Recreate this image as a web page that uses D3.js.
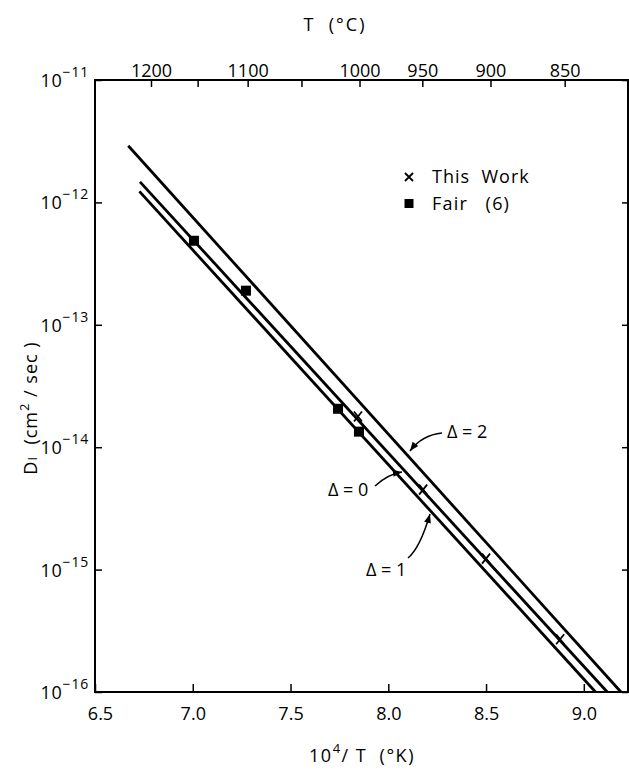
<!DOCTYPE html>
<html><head><meta charset="utf-8">
<script src="https://cdnjs.cloudflare.com/ajax/libs/d3/7.8.5/d3.min.js"></script>
<style>body{margin:0;background:#fff}svg{display:block}text{font-family:"Open Sans","Liberation Sans",Arial,sans-serif;fill:#000;white-space:pre}</style>
</head><body><svg id="c" width="629" height="770"></svg>
<script>
// ---- data ----
const xTicks = [6.5, 7.0, 7.5, 8.0, 8.5, 9.0];
const xTickLabels = ["6.5", "7.0", "7.5", "8.0", "8.5", "9.0"];
const yTicks = [1e-11, 1e-12, 1e-13, 1e-14, 1e-15, 1e-16];
const yTickExps = ["-11", "-12", "-13", "-14", "-15", "-16"];
const topTicksC = [1200, 1150, 1100, 1050, 1000, 950, 900, 850];
const topLabelsC = [1200, 1100, 1000, 950, 900, 850];
// fitted lines: [1e4/T, D]
const lineDelta2 = [[6.67, 2.9e-12], [9.19, 1e-16]];
const lineDelta0 = [[6.73, 1.47e-12], [9.12, 1e-16]];
const lineDelta1 = [[6.727, 1.23e-12], [9.06, 1e-16]];
// data points
const thisWorkX = [7.845, 8.178, 8.50, 8.879];
const thisWorkD = [1.78e-14, 4.5e-15, 1.23e-15, 2.7e-16];
const fairX = [7.006, 7.272, 7.743, 7.85];
const fairD = [4.86e-13, 1.9e-13, 2.06e-14, 1.34e-14];

// ---- layout ----
const L = 95, R = 628, T = 80, B = 692;
const svg = d3.select("#c");
const x = d3.scaleLinear().domain([6.5, 9.226]).range([L, R]);
const y = d3.scaleLog().domain([1e-16, 1e-11]).range([B, T]);
const fs = 18;

// frame
svg.append("rect").attr("x", L).attr("y", T).attr("width", R - L).attr("height", B - T)
  .attr("fill", "none").attr("stroke", "#000").attr("stroke-width", 2);

// bottom axis
const gb = svg.append("g").attr("transform", `translate(0,${B})`)
  .call(d3.axisBottom(x).tickValues(xTicks).tickSizeInner(-8).tickSizeOuter(0).tickPadding(15)
    .tickFormat((d, i) => xTickLabels[i]));
gb.select(".domain").remove();
gb.selectAll("line").attr("stroke-width", 1.5);
gb.selectAll("text").attr("font-size", fs).attr("font-family", "Open Sans, Liberation Sans, sans-serif")
  .attr("dx", (d, i) => i === 0 ? 5 : 0);

// left / right axis ticks
const gl = svg.append("g").attr("transform", `translate(${L},0)`)
  .call(d3.axisLeft(y).tickValues(yTicks).tickSizeInner(-7).tickSizeOuter(0).tickFormat(""));
gl.select(".domain").remove();
gl.selectAll("line").attr("stroke-width", 1.5);
const gr = svg.append("g").attr("transform", `translate(${R},0)`)
  .call(d3.axisRight(y).tickValues(yTicks).tickSizeInner(-6).tickSizeOuter(0).tickFormat(""));
gr.select(".domain").remove();
gr.selectAll("line").attr("stroke-width", 1.5);

yTicks.forEach((v, i) => {
  const t = svg.append("text").attr("x", L - 6).attr("y", y(v) + 7)
    .attr("text-anchor", "end").attr("font-size", fs).attr("letter-spacing", 0.8);
  t.append("tspan").text("10");
  t.append("tspan").attr("dy", -10).attr("font-size", 14).text(yTickExps[i].replace("-", "\u2212"));
});

// top axis (°C)
const xc = c => x(1e4 / (c + 273));
topTicksC.forEach(c => {
  svg.append("line").attr("x1", xc(c)).attr("x2", xc(c)).attr("y1", T).attr("y2", T + 7)
    .attr("stroke", "#000").attr("stroke-width", 1.5);
});
topLabelsC.forEach(c => {
  svg.append("text").attr("x", xc(c)).attr("y", T - 3).attr("text-anchor", "middle")
    .attr("font-size", fs).text(c);
});

// axis titles
svg.append("text").attr("x", 335).attr("y", 31).attr("text-anchor", "middle").attr("font-size", fs)
  .attr("letter-spacing", 2).text("T  (\u00B0C)");
const xl = svg.append("text").attr("x", 362).attr("y", 762).attr("text-anchor", "middle")
  .attr("font-size", fs).attr("letter-spacing", 1.5);
xl.append("tspan").text("10");
xl.append("tspan").attr("dy", -9).attr("font-size", 13).text("4");
xl.append("tspan").attr("dy", 9).text("/ T  (\u00B0K)");
const yl = svg.append("text").attr("transform", "translate(37,408) rotate(-90)")
  .attr("text-anchor", "middle").attr("font-size", fs).attr("letter-spacing", 1);
yl.append("tspan").text("D");
yl.append("tspan").attr("font-size", 13).text("I");
yl.append("tspan").text("  (cm");
yl.append("tspan").attr("dy", -8).attr("font-size", 13).text("2");
yl.append("tspan").attr("dy", 8).text(" / sec )");

// lines
const line = d3.line().x(d => x(d[0])).y(d => y(d[1]));
[lineDelta2, lineDelta0, lineDelta1].forEach(ld => {
  svg.append("path").attr("d", line(ld)).attr("fill", "none").attr("stroke", "#000")
    .attr("stroke-width", 2.8);
});

// markers
fairX.forEach((v, i) => {
  svg.append("rect").attr("x", x(v) - 5).attr("y", y(fairD[i]) - 5).attr("width", 10).attr("height", 10)
    .attr("fill", "#000");
});
thisWorkX.forEach((v, i) => {
  const cx = x(v), cy = y(thisWorkD[i]);
  svg.append("path").attr("d", `M${cx-4},${cy-5}L${cx+4},${cy+5}M${cx+4},${cy-5}L${cx-4},${cy+5}`)
    .attr("stroke", "#000").attr("stroke-width", 1.8).attr("fill", "none");
});

// legend
const lx = 409;
svg.append("path").attr("d", `M${lx-4},${177-4}L${lx+4},${177+4}M${lx+4},${177-4}L${lx-4},${177+4}`)
  .attr("stroke", "#000").attr("stroke-width", 1.8);
svg.append("text").attr("x", 432).attr("y", 183).attr("font-size", fs).attr("letter-spacing", 1)
  .text("This  Work");
svg.append("rect").attr("x", lx - 4.5).attr("y", 199).attr("width", 9).attr("height", 9).attr("fill", "#000");
svg.append("text").attr("x", 432).attr("y", 210).attr("font-size", fs).attr("letter-spacing", 1.2)
  .text("Fair   (6)");

// annotations
function arrow(x1, y1, cx, cy, x2, y2) {
  svg.append("path").attr("d", `M${x1},${y1}Q${cx},${cy} ${x2},${y2}`).attr("fill", "none")
    .attr("stroke", "#000").attr("stroke-width", 1.5);
  const ang = Math.atan2(y2 - cy, x2 - cx);
  const a = 9, w = 3.5;
  const bx = x2 - a * Math.cos(ang), by = y2 - a * Math.sin(ang);
  svg.append("path").attr("d",
    `M${x2},${y2}L${bx + w * Math.sin(ang)},${by - w * Math.cos(ang)}L${bx - w * Math.sin(ang)},${by + w * Math.cos(ang)}Z`)
    .attr("fill", "#000");
}
svg.append("text").attr("x", 447).attr("y", 438).attr("font-size", fs).text("\u0394 = 2");
arrow(442, 433, 422, 435, 410, 451);
svg.append("text").attr("x", 328).attr("y", 496).attr("font-size", fs).text("\u0394 = 0");
arrow(375, 486, 388, 474, 402, 472);
svg.append("text").attr("x", 366).attr("y", 576).attr("font-size", fs).text("\u0394 = 1");
arrow(408, 558, 420, 548, 430, 514);
</script></body></html>
